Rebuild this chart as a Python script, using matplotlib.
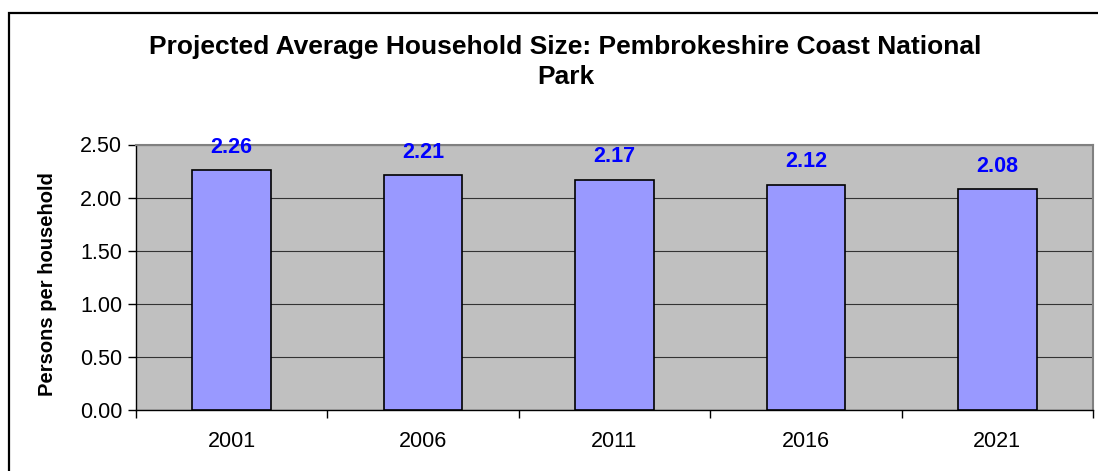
import matplotlib
matplotlib.use("Agg")
import matplotlib.pyplot as plt
from matplotlib.patches import Rectangle

years = ["2001", "2006", "2011", "2016", "2021"]
values = [2.26, 2.21, 2.17, 2.12, 2.08]
yticks = [0.0, 0.5, 1.0, 1.5, 2.0, 2.5]

title = "Projected Average Household Size: Pembrokeshire Coast National\nPark"
ylabel = "Persons per household"

plt.rcParams['font.family'] = ['Liberation Sans', 'DejaVu Sans']

W, H = 1098, 471
fig = plt.figure(figsize=(W / 100, H / 100), dpi=100)
fig.patch.set_facecolor("white")

# outer chart frame (cut off at right and bottom)
fig.patches.append(Rectangle((9 / W, -0.05), 1.2, 1 - 13 / H + 0.05, transform=fig.transFigure,
                             fill=False, edgecolor="black", linewidth=1.6, zorder=0))

left, right = 136 / W, 1093 / W
bottom, top = 1 - 410 / H, 1 - 144.5 / H
ax = fig.add_axes([left, bottom, right - left, top - bottom])
ax.set_facecolor("#C0C0C0")

x = list(range(len(years)))
ax.bar(x, values, width=0.41, color="#9999FF", edgecolor="black", linewidth=1.2, zorder=3)

ax.set_xlim(-0.5, len(years) - 0.5)
ax.set_ylim(0, 2.5)
ax.set_yticks(yticks)
ax.set_yticklabels([f"{v:.2f}" for v in yticks], fontsize=15.5)
ax.yaxis.grid(True, color="#333333", linewidth=0.8, zorder=1)
ax.set_axisbelow(True)

ax.set_xticks(x)
ax.set_xticklabels(years, fontsize=15.5)
ax.set_xticks([i - 0.5 for i in range(len(years) + 1)], minor=True)
ax.tick_params(axis="x", which="major", length=0, pad=15)
ax.tick_params(axis="x", which="minor", length=6, width=1, color="black", direction="out")
ax.tick_params(axis="y", length=6, width=1, color="black", direction="out", pad=4)

for s in ["top", "right"]:
    ax.spines[s].set_color("#808080")
    ax.spines[s].set_linewidth(1.5)
for s in ["left", "bottom"]:
    ax.spines[s].set_color("black")
    ax.spines[s].set_linewidth(1)

for xi, v in zip(x, values):
    ax.annotate(f"{v:.2f}", (xi, v), xytext=(0, 16.5), textcoords="offset points",
                ha="center", va="center", color="#0000FF", fontsize=15.5, fontweight="bold",
                annotation_clip=False)

ax.set_ylabel(ylabel, fontsize=14.5, fontweight="bold")
ax.yaxis.set_label_coords(-0.0825, 0.475)

fig.text(0.515, 1 - 62 / H, title, ha="center", va="center", fontsize=19, fontweight="bold",
         linespacing=1.3)

fig.savefig("out.png", dpi=100)
